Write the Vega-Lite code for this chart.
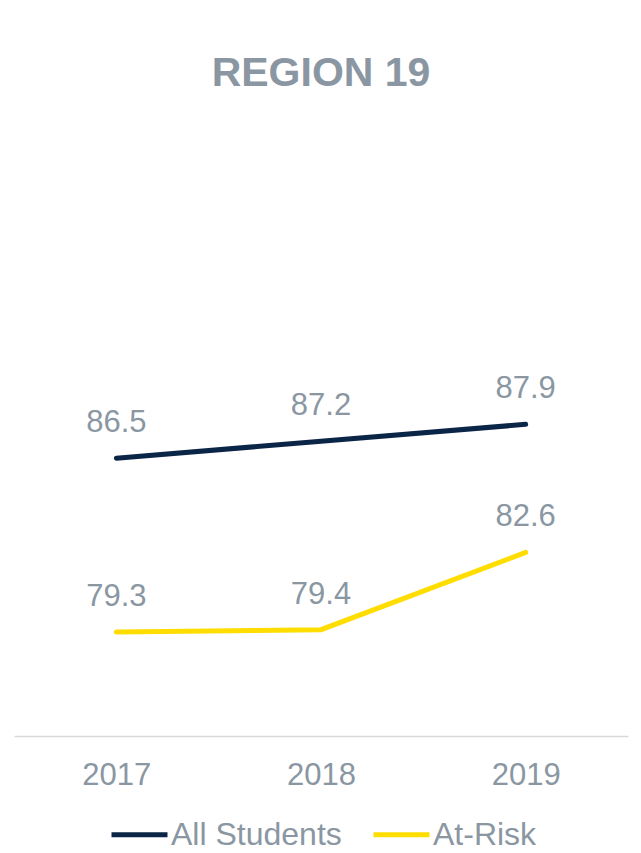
{
  "$schema": "https://vega.github.io/schema/vega-lite/v6.json",
  "width": 614,
  "height": 604,
  "autosize": {"type": "none"},
  "padding": {"left": 14, "top": 132, "right": 13, "bottom": 117},
  "background": "white",
  "title": {"text": "REGION 19", "font": "Liberation Sans", "fontSize": 41, "fontWeight": "bold", "color": "#8a97a2", "anchor": "middle", "baseline": "alphabetic", "offset": 5},
  "config": {"view": {"stroke": null}, "font": "Liberation Sans"},
  "data": {"values": [
    {"year": "2017", "group": "All Students", "value": 86.5},
    {"year": "2018", "group": "All Students", "value": 87.2},
    {"year": "2019", "group": "All Students", "value": 87.9},
    {"year": "2017", "group": "At-Risk", "value": 79.3},
    {"year": "2018", "group": "At-Risk", "value": 79.4},
    {"year": "2019", "group": "At-Risk", "value": 82.6}
  ]},
  "encoding": {
    "x": {"field": "year", "type": "ordinal", "scale": {"type": "point", "padding": 0.5},
      "axis": {"title": null, "labelAngle": 0, "ticks": false, "tickSize": 0, "grid": false, "domainColor": "#d9d9d9", "domainWidth": 1.5, "labelFontSize": 31, "labelColor": "#8a97a2", "labelBaseline": "alphabetic", "labelPadding": 48, "labelFont": "Liberation Sans"}},
    "y": {"field": "value", "type": "quantitative", "scale": {"domain": [75, 100], "nice": false, "zero": false}, "axis": null},
    "color": {"field": "group", "type": "nominal",
      "scale": {"domain": ["All Students", "At-Risk"], "range": ["#0b2547", "#ffdd00"]},
      "legend": {"title": null, "orient": "none", "legendX": 95, "legendY": 672, "direction": "horizontal", "symbolType": "stroke", "symbolSize": 3136, "symbolStrokeWidth": 5, "labelFontSize": 32, "labelColor": "#8a97a2", "labelFont": "Liberation Sans", "labelLimit": 400, "labelOffset": 1, "columnPadding": 21}}
  },
  "layer": [
    {"mark": {"type": "line", "strokeWidth": 5, "strokeCap": "round"}},
    {"mark": {"type": "text", "dy": -26, "baseline": "alphabetic", "fontSize": 31, "font": "Liberation Sans"},
     "encoding": {"text": {"field": "value", "type": "quantitative", "format": ".1f"}, "color": {"value": "#8a97a2"}}}
  ]
}
